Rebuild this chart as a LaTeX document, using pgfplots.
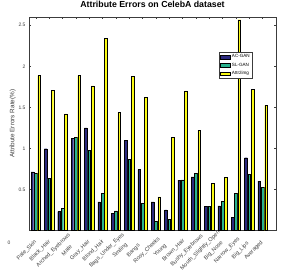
\documentclass[border=0pt]{standalone}
\usepackage{pgfplots}
\pgfplotsset{compat=1.18}
\usepackage{fontspec}
\setmainfont{Liberation Sans}
\definecolor{cac}{RGB}{44,42,128}
\definecolor{csl}{RGB}{42,178,142}
\definecolor{cat}{RGB}{250,250,20}
\definecolor{axc}{RGB}{60,60,60}
\begin{document}
\begin{tikzpicture}
\useasboundingbox (-29bp,-48.5bp) rectangle (253bp,230.5bp);
\begin{axis}[
  scale only axis,
  width=247bp, height=213.5bp,
  xmin=0.5, xmax=19, ymin=0, ymax=2.6,
  ybar, bar width=0.2, 
  axis line style={axc, line width=0.4pt},
  tick style={axc, line width=0.35pt},
  tick align=inside,
  major tick length=2.2bp,
  xtick={1,...,18},
  xticklabels={Pale\_Skin,Black\_Hair,Arched\_Eyebrows,Male,Gray\_Hair,Blond\_Hair,Bags\_Under\_Eyes,Smiling,Bangs,Rosy\_Cheeks,Young,Brown\_Hair,Bushy\_Eyebrows,Mouth\_Slightly\_Open,Big\_Nose,Narrow\_Eyes,Big\_Lips,Averaged},
  xticklabel style={font=\fontsize{5.6}{6}\selectfont, text=axc, anchor=center, xshift=-9bp, yshift=-20bp, rotate=45},
  ytick={0.5,1,1.5,2,2.5},
  yticklabels={0.5,1,1.5,2,2.5},
  yticklabel style={font=\fontsize{5}{6}\selectfont, text=axc},
  /pgf/number format/assume math mode=true,
  title={\textbf{Attribute Errors on CelebA dataset}},
  title style={font=\fontsize{8.8}{10}\selectfont, at={(axis description cs:0.5,1)}, anchor=base, yshift=4bp},
  ylabel={Attribute Errors Rate(\%)},
  ylabel style={font=\fontsize{6.4}{7}\selectfont, text=axc, at={(axis description cs:-0.066,0.5)}, anchor=center, rotate=0},
  legend style={at={(0.769,0.836)}, anchor=north west, font=\fontsize{4.6}{5}\selectfont, draw=axc, line width=0.3pt, inner sep=0.6pt, row sep=-0.5pt, cells={anchor=west}},
  legend image code/.code={\draw[#1, line width=0.3pt] (0bp,-1.8bp) rectangle (10bp,1.8bp);},
  every axis plot/.append style={draw=black, line width=0.3pt},
  clip=false,
]
\addplot[fill=cac, bar shift=-0.25] coordinates {
(1,0.714) (2,0.996) (3,0.23) (4,1.125) (5,1.25) (6,0.35) (7,0.21) (8,1.097) (9,0.742)
(10,0.35) (11,0.25) (12,0.613) (13,0.653) (14,0.298) (15,0.30) (16,0.16) (17,0.887) (18,0.60)};
\addplot[fill=csl, bar shift=0] coordinates {
(1,0.70) (2,0.633) (3,0.27) (4,1.137) (5,0.976) (6,0.45) (7,0.238) (8,0.863) (9,0.33)
(10,0.109) (11,0.137) (12,0.617) (13,0.70) (14,0.298) (15,0.359) (16,0.45) (17,0.685) (18,0.524)};
\addplot[fill=cat, bar shift=0.25] coordinates {
(1,1.887) (2,1.705) (3,1.42) (4,1.887) (5,1.76) (6,2.34) (7,1.44) (8,1.875) (9,1.62)
(10,0.41) (11,1.137) (12,1.70) (13,1.22) (14,0.573) (15,0.65) (16,2.567) (17,1.717) (18,1.523)};
\legend{AC-GAN,SL-GAN,Attr2img}
\node[font=\fontsize{5}{6}\selectfont, text=axc] at (axis description cs:-0.081,-0.057) {0};
\end{axis}
\end{tikzpicture}
\end{document}
